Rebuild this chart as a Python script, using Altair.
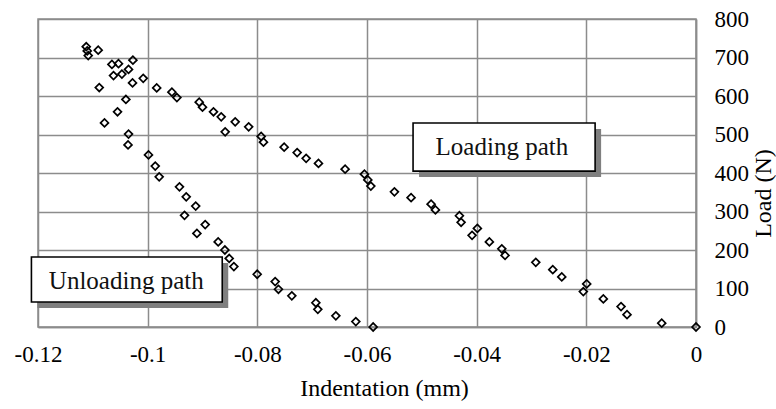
import altair as alt
import pandas as pd

# Loading path (indentation mm, load N)
load_x = [0.0, -0.00625, -0.01258, -0.01367, -0.0169, -0.02055, -0.01993, -0.02448,
          -0.02612, -0.02922, -0.03482, -0.03542, -0.03768, -0.04084, -0.03987, -0.04284,
          -0.04315, -0.04752, -0.04831, -0.05196, -0.055, -0.0593, -0.05985, -0.06047,
          -0.06399, -0.06885, -0.0711, -0.07274, -0.07511, -0.07888, -0.0793, -0.08158,
          -0.08404, -0.08587, -0.08659, -0.088, -0.09, -0.0906, -0.09467, -0.09558,
          -0.09835, -0.10081, -0.10276, -0.10349, -0.1047, -0.10623, -0.10269, -0.10532,
          -0.10652, -0.10902, -0.11084, -0.11102, -0.1112]
load_y = [0, 10, 32, 53, 73, 92, 112, 130,
          149, 168, 186, 203, 221, 238, 256, 272,
          289, 304, 319, 336, 351, 366, 382, 397,
          410, 425, 438, 453, 467, 480, 495, 520,
          533, 507, 546, 559, 571, 584, 596, 610,
          621, 646, 634, 669, 657, 653, 693, 684,
          682, 719, 705, 717, 728]

# Unloading path
unload_x = [-0.10883, -0.10397, -0.1055, -0.10787, -0.10349, -0.10358, -0.09985, -0.09862,
            -0.0979, -0.0942, -0.09297, -0.09124, -0.09328, -0.08951, -0.09102, -0.08714,
            -0.08592, -0.08513, -0.08428, -0.08003, -0.07675, -0.07615, -0.07371, -0.06933,
            -0.06897, -0.06568, -0.06204, -0.05888]
unload_y = [622, 591, 559, 530, 501, 473, 447, 418,
            390, 364, 338, 314, 290, 266, 243, 221,
            200, 178, 157, 137, 118, 98, 81, 63,
            46, 29, 14, 0]

x_ticks = [-0.12, -0.1, -0.08, -0.06, -0.04, -0.02, 0]
y_ticks = [0, 100, 200, 300, 400, 500, 600, 700, 800]

labels = ["Loading path", "Unloading path"]

pts = pd.DataFrame({
    "x": load_x + unload_x,
    "y": load_y + unload_y,
    "path": ["Loading"] * len(load_x) + ["Unloading"] * len(unload_x),
})

# annotation boxes (data units)
boxes = pd.DataFrame({
    "label": labels,
    "x1": [-0.0516, -0.1212],
    "x2": [-0.0184, -0.0864],
    "y1": [530, 182],
    "y2": [405, 65],
    "tx": [-0.0354, -0.1039],
    "ty": [467, 119],
})

FONT = "Liberation Serif"
GRID = "#8c8c8c"

xscale = alt.Scale(domain=[-0.12, 0], nice=False, zero=False)
yscale = alt.Scale(domain=[0, 800], nice=False)

common = dict(
    grid=True, gridColor=GRID, gridWidth=1.5, gridOpacity=1,
    domainColor=GRID, domainWidth=1.5, ticks=False, labelOverlap=False,
    labelFlush=False,
    labelFont=FONT, labelFontSize=23, labelColor="black",
    titleFont=FONT, titleFontSize=24, titleColor="black", titleFontWeight="normal",
)
x_axis = alt.Axis(values=x_ticks, labelExpr="toString(datum.value)",
                  titleX=346, labelPadding=16, titlePadding=10, **common)
y_axis = alt.Axis(orient="right", values=y_ticks, format="d",
                  labelAlign="left", labelPadding=18,
                  titleAngle=270, titleX=67, titleY=174,
                  titleAlign="center", titleBaseline="middle", **common)
XT = "Indentation (mm)"
YT = "Load (N)"

points = alt.Chart(pts).mark_point(
    shape="diamond", filled=False, color="black", size=62, strokeWidth=1.7, opacity=1
).encode(
    x=alt.X("x:Q", scale=xscale, title=XT, axis=x_axis),
    y=alt.Y("y:Q", scale=yscale, title=YT, axis=y_axis),
)

shadow = alt.Chart(boxes).mark_rect(
    fill="#7f7f7f", xOffset=6, x2Offset=6, yOffset=6, y2Offset=6, clip=False
).encode(x=alt.X("x1:Q", scale=xscale, title=XT, axis=x_axis), x2="x2:Q",
         y=alt.Y("y1:Q", scale=yscale, title=YT, axis=y_axis), y2="y2:Q")

box = alt.Chart(boxes).mark_rect(
    fill="white", stroke="black", strokeWidth=1.6, clip=False
).encode(x=alt.X("x1:Q", scale=xscale, title=XT, axis=x_axis), x2="x2:Q",
         y=alt.Y("y1:Q", scale=yscale, title=YT, axis=y_axis), y2="y2:Q")

text = alt.Chart(boxes).mark_text(
    font=FONT, fontSize=25, color="#111111", align="center", baseline="middle", clip=False
).encode(x=alt.X("tx:Q", scale=xscale, title=XT, axis=x_axis),
         y=alt.Y("ty:Q", scale=yscale, title=YT, axis=y_axis), text="label:N")

chart = alt.layer(points, shadow, box, text).properties(
    width=658, height=308,
    autosize=alt.AutoSizeParams(type="none"),
    padding={"left": 38, "top": 19, "right": 80, "bottom": 82},
    background="white",
).configure_view(
    stroke=GRID, strokeWidth=1.5
)

chart.save("out.html", embed_options={"renderer": "svg", "actions": False})
